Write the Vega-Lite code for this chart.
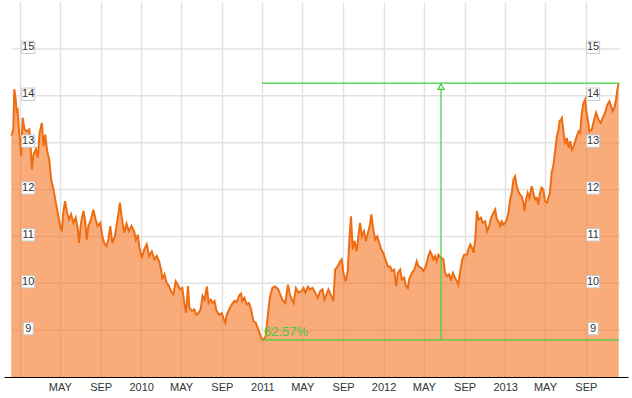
{
  "$schema": "https://vega.github.io/schema/vega-lite/v6.json",
  "width": 624,
  "height": 375,
  "autosize": {"type": "none"},
  "padding": {"left": 4, "top": 2, "right": 4, "bottom": 21},
  "background": "white",
  "config": {"view": {"stroke": null}},
  "resolve": {"axis": {"x": "independent", "y": "independent"}},
  "data": {
    "values": [
      {"d":"2008-12-06","v":13.15},{"d":"2008-12-12","v":13.28},{"d":"2008-12-15","v":14.14},{"d":"2008-12-19","v":13.94},
      {"d":"2008-12-22","v":13.67},{"d":"2008-12-25","v":13.70},{"d":"2008-12-29","v":13.28},{"d":"2009-01-05","v":12.72},
      {"d":"2009-01-09","v":13.53},{"d":"2009-01-15","v":13.28},{"d":"2009-01-22","v":13.24},{"d":"2009-01-29","v":13.28},
      {"d":"2009-02-01","v":13.07},{"d":"2009-02-06","v":12.43},{"d":"2009-02-11","v":12.75},{"d":"2009-02-18","v":12.86},
      {"d":"2009-02-24","v":12.68},{"d":"2009-03-01","v":13.21},{"d":"2009-03-08","v":13.42},{"d":"2009-03-13","v":12.93},
      {"d":"2009-03-18","v":13.17},{"d":"2009-03-24","v":12.82},{"d":"2009-03-30","v":12.64},{"d":"2009-04-05","v":12.21},
      {"d":"2009-04-12","v":12.00},{"d":"2009-04-19","v":11.72},{"d":"2009-04-25","v":11.50},{"d":"2009-05-02","v":11.22},
      {"d":"2009-05-07","v":11.11},{"d":"2009-05-12","v":11.54},{"d":"2009-05-17","v":11.75},{"d":"2009-05-23","v":11.50},
      {"d":"2009-05-29","v":11.36},{"d":"2009-06-04","v":11.47},{"d":"2009-06-11","v":11.29},{"d":"2009-06-18","v":11.40},
      {"d":"2009-06-24","v":11.18},{"d":"2009-06-28","v":10.86},{"d":"2009-07-04","v":11.29},{"d":"2009-07-11","v":11.54},
      {"d":"2009-07-16","v":11.36},{"d":"2009-07-21","v":10.93},{"d":"2009-07-26","v":11.22},{"d":"2009-08-03","v":11.36},
      {"d":"2009-08-10","v":11.57},{"d":"2009-08-17","v":11.36},{"d":"2009-08-23","v":11.22},{"d":"2009-08-31","v":11.29},
      {"d":"2009-09-06","v":11.00},{"d":"2009-09-12","v":10.86},{"d":"2009-09-19","v":10.79},{"d":"2009-09-24","v":10.93},
      {"d":"2009-09-30","v":11.22},{"d":"2009-10-06","v":10.86},{"d":"2009-10-14","v":11.00},{"d":"2009-10-22","v":11.36},
      {"d":"2009-10-29","v":11.72},{"d":"2009-11-03","v":11.43},{"d":"2009-11-11","v":11.08},{"d":"2009-11-18","v":11.27},
      {"d":"2009-11-25","v":11.11},{"d":"2009-12-03","v":11.22},{"d":"2009-12-11","v":11.10},{"d":"2009-12-16","v":10.93},
      {"d":"2009-12-22","v":11.04},{"d":"2009-12-26","v":10.79},{"d":"2010-01-03","v":10.54},{"d":"2010-01-10","v":10.72},
      {"d":"2010-01-18","v":10.83},{"d":"2010-01-25","v":10.58},{"d":"2010-02-02","v":10.68},{"d":"2010-02-10","v":10.51},
      {"d":"2010-02-17","v":10.58},{"d":"2010-02-24","v":10.47},{"d":"2010-03-02","v":10.29},{"d":"2010-03-06","v":10.08},
      {"d":"2010-03-12","v":10.19},{"d":"2010-03-19","v":10.01},{"d":"2010-03-26","v":9.94},{"d":"2010-04-01","v":9.83},
      {"d":"2010-04-08","v":9.76},{"d":"2010-04-15","v":10.04},{"d":"2010-04-21","v":9.97},{"d":"2010-04-28","v":9.87},
      {"d":"2010-05-05","v":9.90},{"d":"2010-05-11","v":9.58},{"d":"2010-05-16","v":9.37},{"d":"2010-05-22","v":9.94},
      {"d":"2010-05-26","v":9.48},{"d":"2010-06-03","v":9.41},{"d":"2010-06-10","v":9.44},{"d":"2010-06-16","v":9.33},
      {"d":"2010-06-23","v":9.37},{"d":"2010-06-29","v":9.44},{"d":"2010-07-05","v":9.73},{"d":"2010-07-11","v":9.65},
      {"d":"2010-07-18","v":9.93},{"d":"2010-07-23","v":9.58},{"d":"2010-07-29","v":9.65},{"d":"2010-08-04","v":9.58},
      {"d":"2010-08-10","v":9.62},{"d":"2010-08-16","v":9.41},{"d":"2010-08-24","v":9.33},{"d":"2010-09-01","v":9.36},
      {"d":"2010-09-07","v":9.23},{"d":"2010-09-11","v":9.16},{"d":"2010-09-16","v":9.33},{"d":"2010-09-23","v":9.44},
      {"d":"2010-10-01","v":9.55},{"d":"2010-10-09","v":9.62},{"d":"2010-10-16","v":9.60},{"d":"2010-10-23","v":9.74},
      {"d":"2010-10-29","v":9.78},{"d":"2010-11-02","v":9.62},{"d":"2010-11-08","v":9.69},{"d":"2010-11-15","v":9.55},
      {"d":"2010-11-22","v":9.58},{"d":"2010-11-28","v":9.44},{"d":"2010-12-05","v":9.19},{"d":"2010-12-12","v":9.16},
      {"d":"2010-12-18","v":9.05},{"d":"2010-12-25","v":8.91},{"d":"2010-12-30","v":8.80},{"d":"2011-01-04","v":8.80},
      {"d":"2011-01-11","v":8.87},{"d":"2011-01-17","v":9.30},{"d":"2011-01-24","v":9.72},{"d":"2011-01-31","v":9.90},
      {"d":"2011-02-08","v":9.93},{"d":"2011-02-17","v":9.88},{"d":"2011-02-24","v":9.76},{"d":"2011-03-02","v":9.65},
      {"d":"2011-03-11","v":9.58},{"d":"2011-03-19","v":9.97},{"d":"2011-03-25","v":9.76},{"d":"2011-03-31","v":9.65},
      {"d":"2011-04-05","v":9.58},{"d":"2011-04-12","v":9.90},{"d":"2011-04-20","v":9.80},{"d":"2011-04-28","v":9.83},
      {"d":"2011-05-05","v":9.90},{"d":"2011-05-10","v":9.80},{"d":"2011-05-18","v":9.93},{"d":"2011-05-25","v":9.87},
      {"d":"2011-06-01","v":9.90},{"d":"2011-06-09","v":9.80},{"d":"2011-06-17","v":9.69},{"d":"2011-06-24","v":9.83},
      {"d":"2011-07-01","v":9.87},{"d":"2011-07-07","v":9.65},{"d":"2011-07-13","v":9.76},{"d":"2011-07-19","v":9.87},
      {"d":"2011-07-27","v":9.73},{"d":"2011-08-03","v":9.62},{"d":"2011-08-08","v":10.29},{"d":"2011-08-16","v":10.36},
      {"d":"2011-08-23","v":10.47},{"d":"2011-08-28","v":10.51},{"d":"2011-09-02","v":10.22},{"d":"2011-09-09","v":10.04},
      {"d":"2011-09-15","v":10.26},{"d":"2011-09-20","v":10.93},{"d":"2011-09-25","v":11.43},{"d":"2011-09-30","v":10.72},
      {"d":"2011-10-05","v":10.90},{"d":"2011-10-12","v":10.68},{"d":"2011-10-17","v":11.00},{"d":"2011-10-22","v":11.29},
      {"d":"2011-10-28","v":11.00},{"d":"2011-11-03","v":11.11},{"d":"2011-11-09","v":10.90},{"d":"2011-11-15","v":11.08},
      {"d":"2011-11-21","v":11.25},{"d":"2011-11-25","v":11.47},{"d":"2011-12-01","v":11.15},{"d":"2011-12-07","v":10.93},
      {"d":"2011-12-13","v":11.00},{"d":"2011-12-19","v":10.86},{"d":"2011-12-25","v":10.72},{"d":"2011-12-31","v":10.65},
      {"d":"2012-01-06","v":10.52},{"d":"2012-01-14","v":10.36},{"d":"2012-01-21","v":10.36},{"d":"2012-01-26","v":10.26},
      {"d":"2012-02-02","v":10.29},{"d":"2012-02-08","v":9.94},{"d":"2012-02-13","v":10.22},{"d":"2012-02-20","v":10.29},
      {"d":"2012-02-25","v":10.08},{"d":"2012-03-03","v":10.12},{"d":"2012-03-08","v":9.94},{"d":"2012-03-14","v":9.90},
      {"d":"2012-03-18","v":10.08},{"d":"2012-03-26","v":10.22},{"d":"2012-04-03","v":10.29},{"d":"2012-04-10","v":10.47},
      {"d":"2012-04-15","v":10.36},{"d":"2012-04-23","v":10.33},{"d":"2012-04-30","v":10.26},{"d":"2012-05-07","v":10.36},
      {"d":"2012-05-15","v":10.58},{"d":"2012-05-20","v":10.68},{"d":"2012-05-25","v":10.61},{"d":"2012-05-30","v":10.51},
      {"d":"2012-06-04","v":10.58},{"d":"2012-06-09","v":10.47},{"d":"2012-06-14","v":10.61},{"d":"2012-06-22","v":10.54},
      {"d":"2012-06-29","v":10.51},{"d":"2012-07-04","v":10.22},{"d":"2012-07-10","v":10.15},{"d":"2012-07-16","v":10.19},
      {"d":"2012-07-22","v":10.08},{"d":"2012-07-28","v":10.22},{"d":"2012-08-03","v":10.12},{"d":"2012-08-09","v":10.04},
      {"d":"2012-08-13","v":9.97},{"d":"2012-08-18","v":10.22},{"d":"2012-08-25","v":10.51},{"d":"2012-08-31","v":10.61},
      {"d":"2012-09-08","v":10.61},{"d":"2012-09-12","v":10.72},{"d":"2012-09-18","v":10.83},{"d":"2012-09-23","v":10.76},
      {"d":"2012-09-28","v":10.65},{"d":"2012-10-03","v":10.93},{"d":"2012-10-08","v":11.54},{"d":"2012-10-13","v":11.36},
      {"d":"2012-10-20","v":11.40},{"d":"2012-10-26","v":11.29},{"d":"2012-11-02","v":11.32},{"d":"2012-11-08","v":11.11},
      {"d":"2012-11-14","v":11.22},{"d":"2012-11-20","v":11.40},{"d":"2012-11-27","v":11.50},{"d":"2012-12-02","v":11.57},
      {"d":"2012-12-07","v":11.36},{"d":"2012-12-12","v":11.32},{"d":"2012-12-17","v":11.22},{"d":"2012-12-22","v":11.32},
      {"d":"2012-12-27","v":11.25},{"d":"2013-01-04","v":11.32},{"d":"2013-01-11","v":11.50},{"d":"2013-01-16","v":11.79},
      {"d":"2013-01-21","v":11.93},{"d":"2013-01-26","v":12.21},{"d":"2013-01-31","v":12.28},{"d":"2013-02-05","v":12.07},
      {"d":"2013-02-10","v":11.96},{"d":"2013-02-15","v":11.89},{"d":"2013-02-20","v":11.86},{"d":"2013-02-25","v":11.72},
      {"d":"2013-02-28","v":11.54},{"d":"2013-03-05","v":11.79},{"d":"2013-03-10","v":11.93},{"d":"2013-03-15","v":11.82},
      {"d":"2013-03-22","v":12.07},{"d":"2013-03-27","v":11.93},{"d":"2013-04-01","v":11.79},{"d":"2013-04-06","v":11.82},
      {"d":"2013-04-11","v":11.68},{"d":"2013-04-16","v":11.93},{"d":"2013-04-21","v":12.04},{"d":"2013-04-26","v":12.00},
      {"d":"2013-05-01","v":11.75},{"d":"2013-05-07","v":11.72},{"d":"2013-05-11","v":11.82},{"d":"2013-05-16","v":11.93},
      {"d":"2013-05-21","v":12.36},{"d":"2013-05-26","v":12.50},{"d":"2013-06-01","v":12.85},{"d":"2013-06-06","v":13.14},
      {"d":"2013-06-11","v":13.28},{"d":"2013-06-14","v":13.46},{"d":"2013-06-18","v":13.49},{"d":"2013-06-21","v":13.53},
      {"d":"2013-06-26","v":13.21},{"d":"2013-07-01","v":12.96},{"d":"2013-07-06","v":13.10},{"d":"2013-07-11","v":12.89},
      {"d":"2013-07-16","v":13.03},{"d":"2013-07-21","v":12.85},{"d":"2013-07-26","v":12.92},{"d":"2013-07-31","v":13.03},
      {"d":"2013-08-05","v":13.14},{"d":"2013-08-10","v":13.24},{"d":"2013-08-15","v":13.21},{"d":"2013-08-20","v":13.64},
      {"d":"2013-08-25","v":13.85},{"d":"2013-08-30","v":13.92},{"d":"2013-09-02","v":13.71},{"d":"2013-09-07","v":13.49},
      {"d":"2013-09-12","v":13.24},{"d":"2013-09-19","v":13.28},{"d":"2013-09-26","v":13.49},{"d":"2013-10-02","v":13.64},
      {"d":"2013-10-09","v":13.49},{"d":"2013-10-16","v":13.42},{"d":"2013-10-22","v":13.53},{"d":"2013-10-29","v":13.64},
      {"d":"2013-11-05","v":13.81},{"d":"2013-11-11","v":13.88},{"d":"2013-11-16","v":13.78},{"d":"2013-11-21","v":13.67},
      {"d":"2013-11-26","v":13.74},{"d":"2013-12-01","v":13.92},{"d":"2013-12-05","v":14.13},{"d":"2013-12-09","v":14.27}
    ],
    "format": {"parse": {"d": "date:'%Y-%m-%d'"}}
  },
  "layer": [
    {
      "data": {"values": [{"v":9},{"v":10},{"v":11},{"v":12},{"v":13},{"v":14},{"v":15}]},
      "mark": {"type": "rule", "color": "#e2e2e2", "strokeWidth": 1.5},
      "encoding": {
        "x": {"datum": {"year": 2008, "month": 12, "date": 9}, "type": "temporal", "axis": null},
        "x2": {"datum": {"year": 2013, "month": 12, "date": 13}},
        "y": {"field": "v", "type": "quantitative", "axis": null}
      }
    },
    {
      "mark": {"type": "area", "color": "#f46f1a", "opacity": 0.58, "clip": true},
      "encoding": {
        "x": {
          "field": "d", "type": "temporal", "title": null,
          "scale": {"domain": [{"year": 2008, "month": 11, "date": 14}, {"year": 2014, "month": 1, "date": 6}]},
          "axis": {
            "values": [
              {"year":2009,"month":1,"date":1},{"year":2009,"month":5,"date":1},{"year":2009,"month":9,"date":1},
              {"year":2010,"month":1,"date":1},{"year":2010,"month":5,"date":1},{"year":2010,"month":9,"date":1},
              {"year":2011,"month":1,"date":1},{"year":2011,"month":5,"date":1},{"year":2011,"month":9,"date":1},
              {"year":2012,"month":1,"date":1},{"year":2012,"month":5,"date":1},{"year":2012,"month":9,"date":1},
              {"year":2013,"month":1,"date":1},{"year":2013,"month":5,"date":1},{"year":2013,"month":9,"date":1}
            ],
            "labelExpr": "month(datum.value) == 0 ? (year(datum.value) == 2009 ? '' : timeFormat(datum.value, '%Y')) : upper(timeFormat(datum.value, '%b'))",
            "grid": true, "gridColor": "#e2e2e2", "gridWidth": 1.5,
            "domain": true, "domainColor": "#000000", "domainWidth": 1,
            "ticks": false,
            "labelFont": "Liberation Sans Narrow, Arial Narrow, Liberation Sans, Arial",
            "labelFontSize": 11, "labelColor": "#333333", "labelPadding": 4,
            "labelFlush": false, "labelOverlap": false
          }
        },
        "y": {
          "field": "v", "type": "quantitative",
          "scale": {"domain": [8, 16], "nice": false, "zero": false},
          "axis": null
        }
      }
    },
    {
      "mark": {"type": "line", "color": "#ee6d12", "strokeWidth": 2},
      "encoding": {
        "x": {"field": "d", "type": "temporal", "axis": null},
        "y": {"field": "v", "type": "quantitative", "axis": null}
      }
    },
    {
      "data": {
        "values": [{"start": "2010-12-31", "end": "2013-12-10", "mid": "2012-06-22", "low": 8.79, "high": 14.27, "pct": "62.57%"}],
        "format": {"parse": {"start": "date:'%Y-%m-%d'", "end": "date:'%Y-%m-%d'", "mid": "date:'%Y-%m-%d'"}}
      },
      "layer": [
        {
          "mark": {"type": "rule", "color": "#3fcf3f", "strokeWidth": 1.2},
          "encoding": {
            "x": {"field": "start", "type": "temporal", "axis": null},
            "x2": {"field": "end"},
            "y": {"field": "high", "type": "quantitative", "axis": null}
          }
        },
        {
          "mark": {"type": "rule", "color": "#3fcf3f", "strokeWidth": 1.2},
          "encoding": {
            "x": {"field": "start", "type": "temporal", "axis": null},
            "x2": {"field": "end"},
            "y": {"field": "low", "type": "quantitative", "axis": null}
          }
        },
        {
          "mark": {"type": "rule", "color": "#3fcf3f", "strokeWidth": 1.2},
          "encoding": {
            "x": {"field": "mid", "type": "temporal", "axis": null},
            "y": {"field": "low", "type": "quantitative", "axis": null},
            "y2": {"field": "high"}
          }
        },
        {
          "mark": {"type": "point", "shape": "triangle-up", "size": 40, "filled": true, "fill": "#ffffff", "stroke": "#3fcf3f", "strokeWidth": 1.2, "opacity": 1, "yOffset": 3.5},
          "encoding": {
            "x": {"field": "mid", "type": "temporal", "axis": null},
            "y": {"field": "high", "type": "quantitative", "axis": null}
          }
        },
        {
          "mark": {"type": "text", "color": "#44cc44", "fontSize": 13, "font": "Liberation Sans, Arial", "align": "left", "baseline": "alphabetic", "dx": 2, "dy": -4},
          "encoding": {
            "x": {"field": "start", "type": "temporal", "axis": null},
            "y": {"field": "low", "type": "quantitative", "axis": null},
            "text": {"field": "pct"}
          }
        }
      ]
    },
    {
      "data": {"values": [{"v":9},{"v":10},{"v":11},{"v":12},{"v":13},{"v":14},{"v":15}]},
      "layer": [
        {
          "transform": [{"filter": "datum.v >= 10"}],
          "mark": {"type": "point", "shape": "M-1,-0.95L1,-0.95L1,0.95L-1,0.95Z", "filled": true, "fill": "#ffffff", "stroke": "#c8c8c8", "strokeWidth": 1, "size": 169, "opacity": 1, "yOffset": -1.5},
          "encoding": {
            "x": {"datum": {"year": 2009, "month": 1, "date": 26}, "type": "temporal", "axis": null},
            "y": {"field": "v", "type": "quantitative", "axis": null}
          }
        },
        {
          "transform": [{"filter": "datum.v >= 10"}],
          "mark": {"type": "point", "shape": "M-1,-0.95L1,-0.95L1,0.95L-1,0.95Z", "filled": true, "fill": "#ffffff", "stroke": "#c8c8c8", "strokeWidth": 1, "size": 169, "opacity": 1, "yOffset": -1.5},
          "encoding": {
            "x": {"datum": {"year": 2013, "month": 9, "date": 23}, "type": "temporal", "axis": null},
            "y": {"field": "v", "type": "quantitative", "axis": null}
          }
        },
        {
          "transform": [{"filter": "datum.v < 10"}],
          "mark": {"type": "point", "shape": "M-0.77,-0.95L0.77,-0.95L0.77,0.95L-0.77,0.95Z", "filled": true, "fill": "#ffffff", "stroke": "#c8c8c8", "strokeWidth": 1, "size": 169, "opacity": 1, "yOffset": -1.5},
          "encoding": {
            "x": {"datum": {"year": 2009, "month": 1, "date": 26}, "type": "temporal", "axis": null},
            "y": {"field": "v", "type": "quantitative", "axis": null}
          }
        },
        {
          "transform": [{"filter": "datum.v < 10"}],
          "mark": {"type": "point", "shape": "M-0.77,-0.95L0.77,-0.95L0.77,0.95L-0.77,0.95Z", "filled": true, "fill": "#ffffff", "stroke": "#c8c8c8", "strokeWidth": 1, "size": 169, "opacity": 1, "yOffset": -1.5},
          "encoding": {
            "x": {"datum": {"year": 2013, "month": 9, "date": 23}, "type": "temporal", "axis": null},
            "y": {"field": "v", "type": "quantitative", "axis": null}
          }
        },
        {
          "mark": {"type": "text", "color": "#333333", "fontSize": 11, "font": "Liberation Sans, Arial", "align": "center", "baseline": "middle", "dy": -1.5},
          "encoding": {
            "x": {"datum": {"year": 2009, "month": 1, "date": 26}, "type": "temporal", "axis": null},
            "y": {"field": "v", "type": "quantitative", "axis": null},
            "text": {"field": "v", "type": "quantitative"}
          }
        },
        {
          "mark": {"type": "text", "color": "#333333", "fontSize": 11, "font": "Liberation Sans, Arial", "align": "center", "baseline": "middle", "dy": -1.5},
          "encoding": {
            "x": {"datum": {"year": 2013, "month": 9, "date": 23}, "type": "temporal", "axis": null},
            "y": {"field": "v", "type": "quantitative", "axis": null},
            "text": {"field": "v", "type": "quantitative"}
          }
        }
      ]
    }
  ]
}
